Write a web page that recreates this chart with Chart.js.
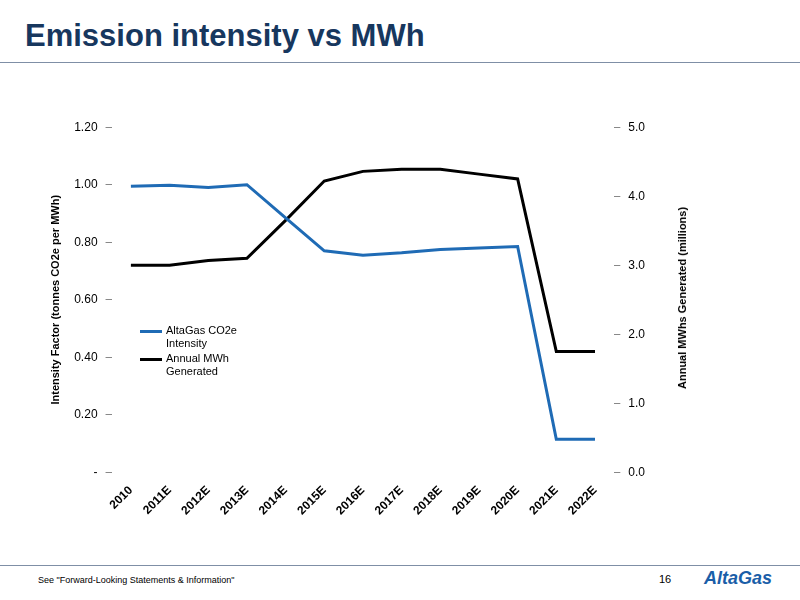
<!DOCTYPE html>
<html>
<head>
<meta charset="utf-8">
<script src="https://cdn.jsdelivr.net/npm/chart.js@4"></script>
<style>
body { margin:0; width:800px; height:600px; background:#fff; font-family:Arial, "Liberation Sans", sans-serif; position:relative; overflow:hidden; }
#title { position:absolute; left:25px; top:18px; font-size:31px; font-weight:bold; color:#17375e; }
#topline { position:absolute; left:0; top:62px; width:800px; height:1px; background:#7f8fa6; }
#botline { position:absolute; left:0; top:565px; width:800px; height:1px; background:#7f8fa6; }
#foot { position:absolute; left:38px; top:575px; font-size:9px; color:#000; }
#page { position:absolute; left:659px; top:573px; font-size:11px; }
#logo { position:absolute; left:704px; top:568px; font-size:18px; font-weight:bold; font-style:italic; color:#1a5ea8; }
#wrap { position:absolute; left:45px; top:112px; width:645px; height:409px; }
#rtitle { position:absolute; left:682px; top:298px; font-size:11px; font-weight:bold; white-space:nowrap; transform:translate(-50%,-50%) rotate(-90deg); }
#legend { position:absolute; left:140px; top:324px; font-size:11px; line-height:13px; color:#000; }
.item { position:relative; padding-left:26px; margin-bottom:2px; width:110px; }
.item span { position:absolute; left:0; top:6px; width:22px; height:3px; }
</style>
</head>
<body>
<div id="title">Emission intensity vs MWh</div>
<div id="topline"></div>
<div id="wrap"><canvas id="chartjs-0" width="645" height="409"></canvas></div>
<div id="rtitle">Annual MWhs Generated (millions)</div>
<div id="legend">
  <div class="item"><span style="background:#1f6bb5"></span>AltaGas CO2e Intensity</div>
  <div class="item"><span style="background:#000"></span>Annual MWh Generated</div>
</div>
<div id="botline"></div>
<div id="foot">See "Forward-Looking Statements &amp; Information"</div>
<div id="page">16</div>
<div id="logo">AltaGas</div>
<script>
var years = ["2010","2011E","2012E","2013E","2014E","2015E","2016E","2017E","2018E","2019E","2020E","2021E","2022E"];
var intensity = [0.995,0.998,0.99,1.0,0.885,0.77,0.755,0.763,0.775,0.78,0.785,0.115,0.115];
var mwh = [3.0,3.0,3.07,3.1,3.65,4.22,4.36,4.39,4.39,4.32,4.25,1.75,1.75];

var ctx0 = document.getElementById("chartjs-0");
var myChart = new Chart(ctx0, {
    type: "line",
    data: {
        labels: years,
        datasets: [
            { label: "AltaGas CO2e Intensity", data: intensity, yAxisID: "y",
              borderColor: "#1f6bb5", borderWidth: 3, pointRadius: 0, fill: false, tension: 0 },
            { label: "Annual MWh Generated", data: mwh, yAxisID: "y1",
              borderColor: "#000", borderWidth: 3, pointRadius: 0, fill: false, tension: 0 }
        ]
    },
    options: {
        responsive: false,
        animation: false,
        layout: { padding: { top: 10, bottom: 0, right: 37 } },
        plugins: { legend: { display: false }, tooltip: { enabled: false } },
        scales: {
            x: {
                offset: true,
                grid: { display: false },
                border: { display: false },
                ticks: { color: "#000", font: { size: 12, weight: "bold" }, maxRotation: 45, minRotation: 45 }
            },
            y: {
                position: "left", min: 0, max: 1.2,
                border: { display: false },
                grid: { drawOnChartArea: false, tickLength: 6, color: "#888" },
                ticks: { stepSize: 0.2, color: "#000", font: { size: 12 }, padding: 8,
                    callback: function (v) { return v === 0 ? "-" : v.toFixed(2); } },
                title: { display: true, text: "Intensity Factor (tonnes CO2e per MWh)", color: "#000", font: { size: 11, weight: "bold" } }
            },
            y1: {
                position: "right", min: 0, max: 5,
                border: { display: false },
                grid: { drawOnChartArea: false, tickLength: 6, color: "#888" },
                ticks: { stepSize: 1, color: "#000", font: { size: 12 }, padding: 8,
                    callback: function (v) { return v.toFixed(1); } }
            }
        }
    }
});
</script>
</body>
</html>
